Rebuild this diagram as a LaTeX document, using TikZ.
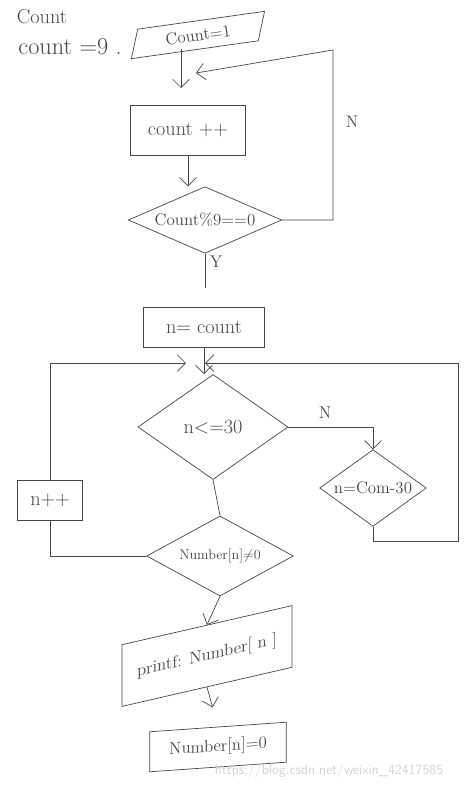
\documentclass[tikz,border=0pt]{standalone}
\usepackage{amsmath}
\usepackage{xcolor}
\usepackage{tikz}
\usetikzlibrary{arrows.meta, positioning, calc, shapes.geometric}
\definecolor{pen}{RGB}{70,70,70}
\definecolor{wmark}{RGB}{210,210,210}

\begin{document}
\begin{tikzpicture}[
    x=0.03cm, y=-0.03cm,
    >={Straight Barb[length=2.5mm]},
    every node/.style={font=\Large, text=pen},
    flow/.style={draw=pen, line width=0.6pt},
    box/.style={draw=pen, line width=0.6pt, rectangle, inner sep=2pt},
    decide/.style={draw=pen, line width=0.6pt, diamond, inner sep=0pt},
    io/.style={draw=pen, line width=0.6pt, trapezium, trapezium left angle=70, trapezium right angle=110, inner sep=2pt},
]
    \useasboundingbox (0,0) rectangle (473,788);

    % Notes at the top
    \node[font=\LARGE] (note) at (42,17) {Count};
    \node[font=\huge] (init) at (70,47) {count =9 .};

    % Input
    \node[io, rotate=8, minimum width=2.7cm, minimum height=0.85cm] (start) at (198,35) {Count=1};
    \coordinate (merge) at (196,73);
    \coordinate (drop) at (181,88);
    \coordinate (ntop) at (333,50);

    % Count loop
    \node[box, minimum width=3.45cm, minimum height=1.5cm, font=\LARGE] (inc) at (188,130) {count ++};
    \node[decide, aspect=2.3, minimum width=4.6cm, minimum height=2cm] (chk) at (205,220) {Count\%9==0};
    \node (yes) at (216,262) {Y};
    \node (no1) at (352,122) {N};

    % Search for n
    \node[box, minimum width=3.65cm, minimum height=1.2cm, font=\LARGE] (set) at (204,327) {n= count};
    \coordinate (lin) at (186,363);
    \coordinate (rin) at (205,363);
    \coordinate (rcorner) at (458,541);
    \node[decide, aspect=1.43, minimum width=4.5cm, minimum height=3.15cm, font=\LARGE] (cmp) at (213,427) {n<=30};
    \node (no2) at (325,413) {N};
    \node[decide, aspect=1.4, minimum width=3.2cm, minimum height=2.3cm] (adj) at (373,488) {n=Com-30};
    \node[box, minimum width=1.95cm, minimum height=1.2cm, font=\LARGE] (ninc) at (50,500) {n++};
    \node[decide, aspect=1.8, minimum width=4.4cm, minimum height=2.4cm, font=\large] (nz) at (220,556) {Number[n]$\neq$0};

    % Output
    \node[box, yslant=0.23, minimum width=5.1cm, minimum height=1.85cm] (prt) at (207,656) {printf: Number[ n ]};
    \node[box, yslant=0.07, minimum width=4.1cm, minimum height=1.2cm] (clr) at (218,747) {Number[n]=0};

    % Watermark
    \node[font=\large\sffamily, text=wmark] (wm) at (329,771) {https://blog.csdn.net/weixin\_42417585};

    % Connectors
    \draw[flow, ->] (start.south -| drop) -- (drop);
    \draw[flow, ->] (chk.east) -| (ntop) -- (merge);
    \draw[flow, ->] (inc.south) -- (inc.south |- chk.north);
    \draw[flow, shorten >=0.55cm] (chk.south) -- (chk.south |- set.north);
    \draw[flow, ->] (set.south) -- (set.south |- cmp.north);
    \draw[flow, ->] (ninc.north) |- (lin);
    \draw[flow, ->] (adj.south) |- (rcorner) |- (rin);
    \draw[flow, ->] (cmp.east) -| (adj.north);
    \draw[flow] (cmp.south) -- (nz.north);
    \draw[flow] (nz.west) -| (ninc.south);
    \draw[flow, ->] (nz.south) -- (prt.north);
    \draw[flow, ->, shorten >=0.6cm] (prt.south) -- (clr.north);
\end{tikzpicture}
\end{document}
